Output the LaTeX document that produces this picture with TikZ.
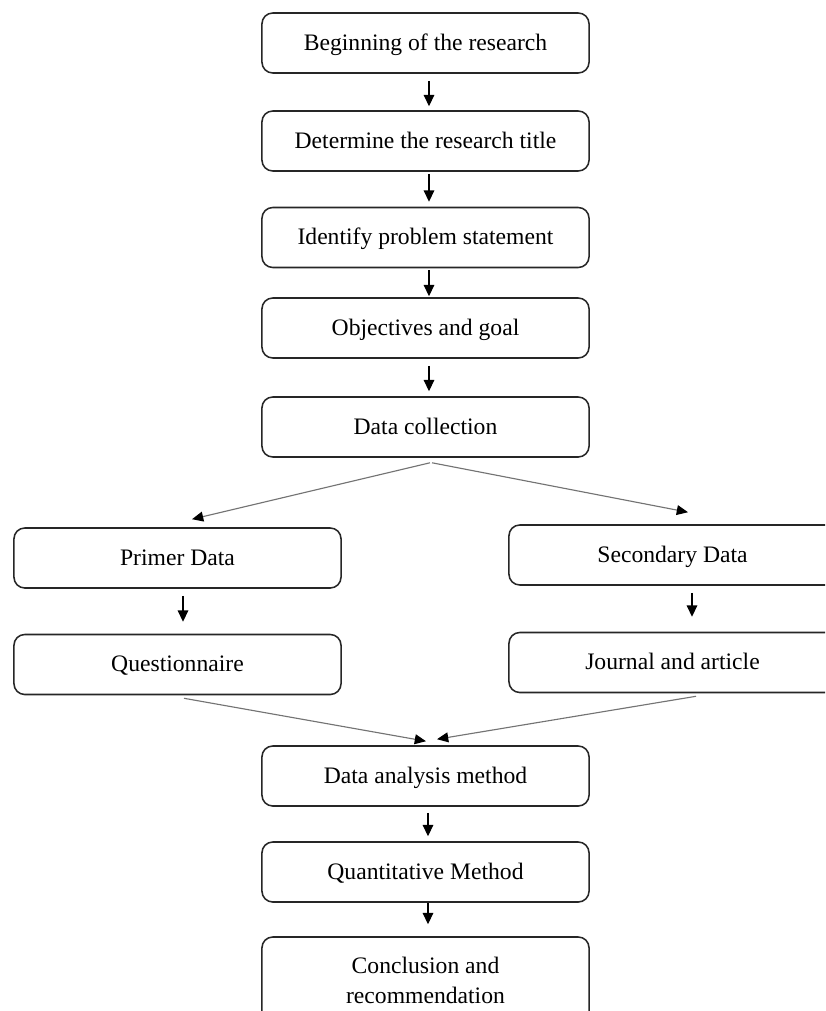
\documentclass[tikz,border=0pt]{standalone}
\usepackage{fontspec}
\setmainfont{Liberation Serif}
\usetikzlibrary{arrows.meta,calc}
\begin{document}
\begin{tikzpicture}[x=0.025cm,y=-0.025cm,
  box/.style={draw=black!85, line width=1.1pt, rounded corners=0.27cm,
    minimum width=8.175cm, minimum height=1.5cm, inner sep=0pt,
    align=center, font=\fontsize{16.8}{21.3}\selectfont},
  one/.style={text height=13.6pt, text depth=3pt},
  varr/.style={-{Triangle[length=8pt,width=7.5pt]}, line width=0.8pt, draw=black},
  darr/.style={-{Triangle[length=8pt,width=7pt,color=black]}, line width=0.8pt, draw=black!55}]
\useasboundingbox (0,0) rectangle (825,1011);
\clip (0,0) rectangle (825,1011);
\fill[white] (0,0) rectangle (825,1011);

\node[box,one] (b1) at (425.5,43) {Beginning of the research};
\node[box,one] (b2) at (425.5,141) {Determine the research title};
\node[box,one] (b3) at (425.5,237.5) {Identify problem statement};
\node[box,one] (b4) at (425.5,328) {Objectives and goal};
\node[box,one] (b5) at (425.5,427) {Data collection};
\node[box,one] (primer) at (177.5,558) {Primer Data};
\node[box,one,minimum width=8.525cm] (second) at (679.5,555) {};
\node[one, font=\fontsize{16.8}{21.3}\selectfont] (secondt) at (672.5,555) {Secondary Data};
\node[box,one] (quest) at (177.5,664.5) {Questionnaire};
\node[box,one,minimum width=8.525cm] (journal) at (679.5,662.5) {};
\node[one, font=\fontsize{16.8}{21.3}\selectfont] (journalt) at (672.5,662.5) {Journal and article};
\node[box,one] (da) at (425.5,776) {Data analysis method};
\node[box,one] (qm) at (425.5,872) {Quantitative Method};
\node[box, minimum height=2.15cm] (concl) at (425.5,980) {Conclusion and\\recommendation};

\draw[varr] ($(b1.south)+(3.5,7)$) -- ($(b2.north)+(3.5,-4)$);
\draw[varr] ($(b2.south)+(3.5,2)$) -- ($(b3.north)+(3.5,-5)$);
\draw[varr] ($(b3.south)+(3.5,2)$) -- ($(b4.north)+(3.5,-1)$);
\draw[varr] ($(b4.south)+(3.5,7)$) -- ($(b5.north)+(3.5,-5)$);
\draw[varr] ($(primer.south)+(5.5,7)$) -- ($(quest.north)+(5.5,-12)$);
\draw[varr] ($(second.south)+(12.5,7)$) -- ($(journal.north)+(12.5,-15)$);
\draw[varr] ($(da.south)+(2.5,6)$) -- ($(qm.north)+(2.5,-5)$);
\draw[varr] ($(qm.south)+(2.5,0)$) -- ($(concl.north)+(2.5,-12)$);

\draw[darr] ($(b5.south)+(4.5,5)$) -- ($(primer.north)+(14.5,-8)$);
\draw[darr] ($(b5.south)+(6.5,5)$) -- ($(second.north)+(8.5,-12)$);
\draw[darr] ($(quest.south)+(6.5,3)$) -- ($(da.north)+(0.5,-4)$);
\draw[darr] ($(journal.south)+(16.5,3)$) -- ($(da.north)+(11.5,-6)$);
\end{tikzpicture}
\end{document}
